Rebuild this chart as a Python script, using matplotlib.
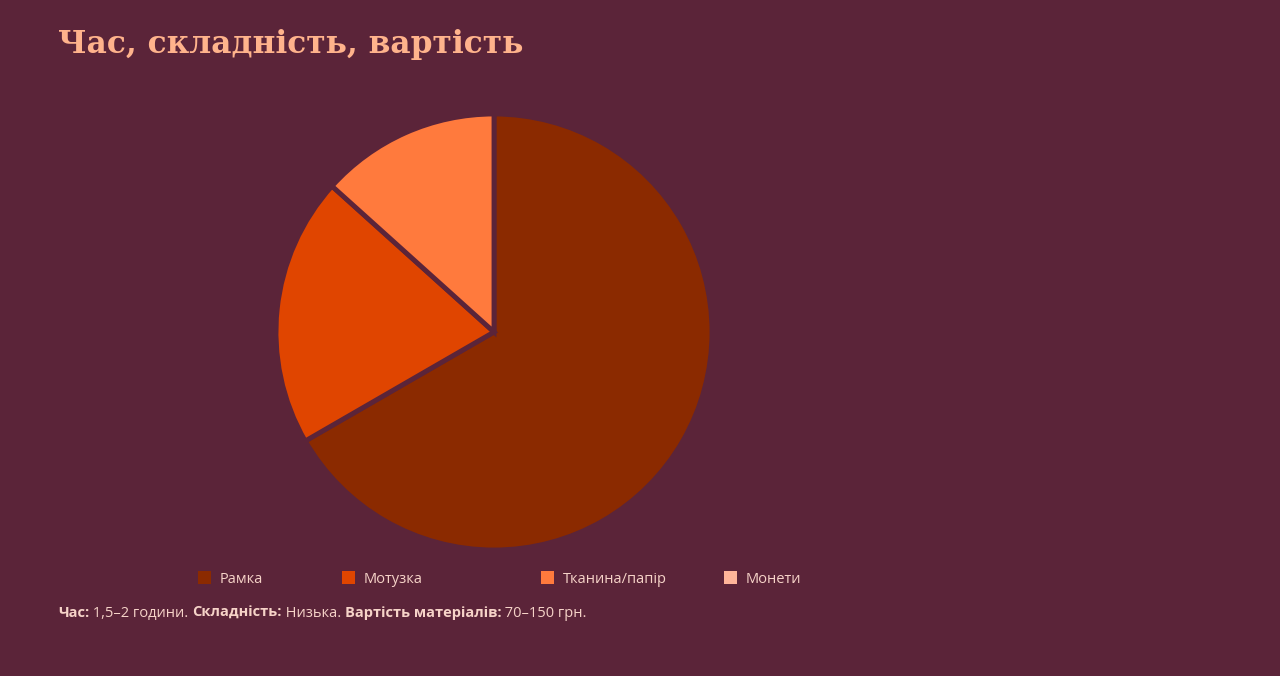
import matplotlib
matplotlib.use('Agg')
import matplotlib.pyplot as plt
from matplotlib.patches import Patch

# data
labels = ['Рамка', 'Мотузка', 'Тканина/папір', 'Монети']
shares = [100, 30, 20, 0]
colors = ['#8B2A00', '#E04500', '#FF7A3D', '#FFB59A']

title = 'Час, складність, вартість'
footer = [('Час:', True), (' 1,5–2 години. ', False),
          ('Складність:', True), (' Низька. ', False),
          ('Вартість матеріалів:', True), (' 70–150 грн.', False)]

bg = '#5B2439'
txt = '#F6D3C8'
sans = 'Open Sans'

W, H = 1280, 676
fig = plt.figure(figsize=(W / 100, H / 100), dpi=100, facecolor=bg)

# pie axes, centre ~ (494, 332) px, radius ~ 218 px
cx, cy, r = 494, 332, 218
ax = fig.add_axes([(cx - r) / W, (H - cy - r) / H, 2 * r / W, 2 * r / H])
ax.set_facecolor(bg)
vals = [v for v in shares if v > 0]
cols = [c for v, c in zip(shares, colors) if v > 0]
ax.pie(vals, colors=cols, startangle=90, counterclock=False, radius=1,
       wedgeprops=dict(edgecolor=bg, linewidth=3.5))
ax.set_xlim(-1, 1)
ax.set_ylim(-1, 1)
ax.set_aspect('equal')
ax.axis('off')

fig.text(58 / W, 1 - 45 / H, title, fontsize=22.5, fontweight='bold',
         family='DejaVu Serif', color='#FFB38C', va='center', ha='left')

# legend entries, placed one by one
leg_x = [192, 336, 535, 718]
for lab, col, x in zip(labels, colors, leg_x):
    lg = fig.legend(handles=[Patch(facecolor=col, edgecolor='none')], labels=[lab],
                    loc='center left', bbox_to_anchor=(x / W, 1 - 579 / H),
                    frameon=False, handlelength=0.9, handleheight=0.9,
                    handletextpad=0.6, borderaxespad=0,
                    prop={'family': sans, 'size': 10.5})
    for t in lg.get_texts():
        t.set_color(txt)

# footer with mixed weights, each piece chained after the previous one
# (x follows the previous piece, baseline is shared)
base_y = 1 - 617 / H
prev = None
for s, bold in footer:
    kw = dict(fontsize=10.5, family=sans, color=txt,
              fontweight='bold' if bold else 'normal', va='baseline', ha='left')
    if prev is None:
        prev = fig.text(58 / W, base_y, s, **kw)
    else:
        prev = fig.add_artist(plt.Annotation(s, xy=(1, base_y),
                                             xycoords=(prev, 'figure fraction'), **kw))

plt.savefig('out.png', dpi=100, facecolor=bg)
